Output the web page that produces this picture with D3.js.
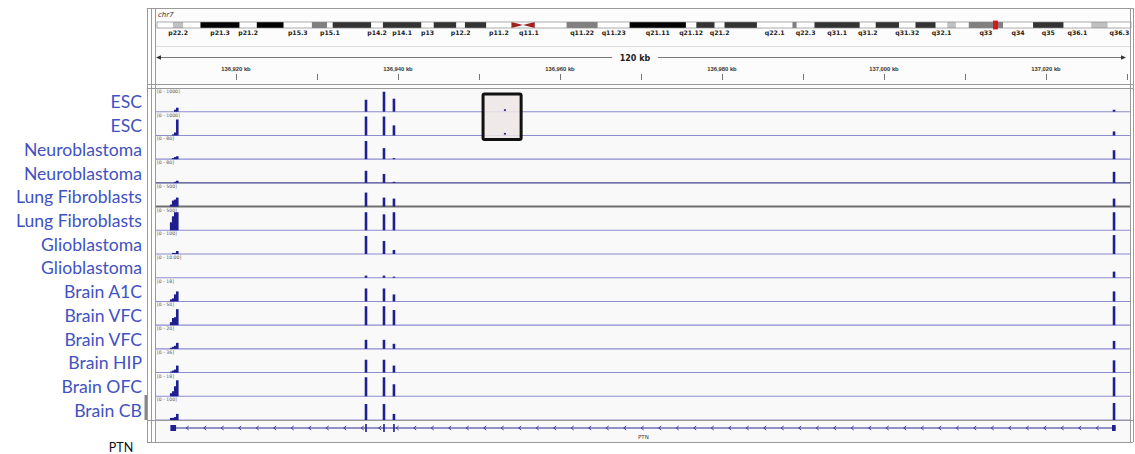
<!DOCTYPE html>
<meta charset="utf-8">
<style>

body {
  margin: 0;
  background: #fff;
}

svg {
  display: block;
  font-family: "DejaVu Sans", sans-serif;
}

.track-name {
  font-family: Lato, "Open Sans", sans-serif;
  font-size: 17.6px;
  fill: #4152c3;
}

.range-label {
  font-size: 4.6px;
  fill: #555;
}

.band-label {
  font-size: 6.2px;
  font-weight: bold;
  fill: #222;
}

.tick-label {
  font-size: 5.8px;
  font-weight: bold;
  fill: #333;
}

.frame {
  fill: none;
  stroke: #999;
  shape-rendering: crispEdges;
}

</style>
<body>
<script src="https://cdn.jsdelivr.net/npm/d3@7"></script>
<script>

var width = 1135,
    height = 454;

// tracks
var trackNames = ["ESC", "ESC", "Neuroblastoma", "Neuroblastoma", "Lung Fibroblasts", "Lung Fibroblasts",
    "Glioblastoma", "Glioblastoma", "Brain A1C", "Brain VFC", "Brain VFC", "Brain HIP", "Brain OFC", "Brain CB"];
var trackRanges = ["[0 - 1000]", "[0 - 1000]", "[0 - 80]", "[0 - 80]", "[0 - 500]", "[0 - 500]",
    "[0 - 100]", "[0 - 10.00]", "[0 - 18]", "[0 - 50]", "[0 - 20]", "[0 - 36]", "[0 - 18]", "[0 - 100]"];
var trackMax = [1000, 1000, 80, 80, 500, 500, 100, 10, 18, 50, 20, 36, 18, 100];

// coverage bins (kb) and signal per track
var binKb = [136912.0, 136912.25, 136912.5, 136912.75, 136936.05, 136938.27, 136939.5, 136953.2, 137028.4];
var binWidthKb = 0.32;
var trackValues = [
  [0, 0, 95, 190, 570, 950, 620, 60, 95],
  [0, 50, 140, 760, 900, 900, 480, 60, 190],
  [0, 4, 8, 11, 69, 42, 4, 0, 34],
  [0, 0, 4, 8, 46, 34, 4, 0, 42],
  [48, 143, 167, 214, 333, 214, 190, 0, 190],
  [190, 333, 430, 430, 430, 380, 430, 0, 430],
  [0, 5, 5, 14, 86, 62, 19, 0, 90],
  [0, 0, 0, 0, 1, 1, 0.5, 0, 2.9],
  [1.7, 2.6, 6, 8.6, 11.1, 11.1, 6, 0, 8.6],
  [7, 17, 19, 38, 45, 45, 36, 0, 45],
  [1, 1.9, 2.9, 5.7, 8.6, 8.6, 4.8, 0, 7.6],
  [1.7, 3.4, 5.1, 12, 22, 22, 12, 0, 21],
  [2.6, 4.3, 8.6, 13.7, 16.3, 16.3, 10.3, 0, 16.3],
  [10, 10, 14, 29, 76, 76, 29, 0, 81]
];

// view & ruler
var viewKb = [136910, 137030];
var rulerTicksKb = d3.range(136920, 137031, 10);
var rulerLabel = "120 kb";
var highlightKb = [136950.5, 136955.2];

// gene PTN (minus strand)
var geneName = "PTN";
var geneKb = [136912.0, 137028.6];
var geneBlocksKb = [[136911.9, 136912.6], [137028.15, 137028.6]];
var geneExonsKb = [136936.05, 136938.27, 136939.5];

// chr7 cytobands (start Mb, stain)
var chromLengthMb = 159.1;
var bandNames = ["p22.3", "p22.2", "p22.1", "p21.3", "p21.2", "p21.1", "p15.3", "p15.2", "p15.1", "p14.3",
    "p14.2", "p14.1", "p13", "p12.3", "p12.2", "p12.1", "p11.2", "p11.1", "q11.1", "q11.21", "q11.22", "q11.23",
    "q21.11", "q21.12", "q21.13", "q21.2", "q21.3", "q22.1", "q22.2", "q22.3", "q31.1", "q31.2", "q31.31",
    "q31.32", "q31.33", "q32.1", "q32.2", "q32.3", "q33", "q34", "q35", "q36.1", "q36.2", "q36.3"];
var bandStartMb = [0, 2.6, 4.3, 7.1, 13.5, 16.3, 20.7, 25.3, 27.8, 28.7,
    35.0, 36.9, 43.2, 45.2, 48.9, 50.3, 53.8, 57.9, 59.8, 61.7, 66.9, 72.0,
    77.2, 86.4, 88.1, 91.1, 92.7, 98.0, 103.8, 104.5, 107.4, 114.8, 117.4,
    121.2, 123.9, 127.2, 129.1, 130.5, 132.6, 138.2, 143.1, 148.1, 152.6, 155.3];
var bandStain = ["gneg", "gpos25", "gneg", "gpos100", "gneg", "gpos100", "gneg", "gpos50", "gneg", "gpos75",
    "gneg", "gpos75", "gneg", "gpos75", "gneg", "gpos75", "gneg", "acen", "acen", "gneg", "gpos50", "gneg",
    "gpos100", "gneg", "gpos75", "gneg", "gpos75", "gneg", "gpos50", "gneg", "gpos75", "gneg", "gpos75",
    "gneg", "gpos75", "gneg", "gpos25", "gneg", "gpos50", "gneg", "gpos75", "gneg", "gpos25", "gneg"];
var bandLabels = ["p22.2", "p21.3", "p21.2", "p15.3", "p15.1", "p14.2", "p14.1", "p13", "p12.2", "p11.2",
    "q11.1", "q11.22", "q11.23", "q21.11", "q21.12", "q21.2", "q22.1", "q22.3", "q31.1", "q31.2", "q31.32",
    "q32.1", "q33", "q34", "q35", "q36.1", "q36.3"];

var stainColor = {gneg: "#ffffff", gpos25: "#c0c0c0", gpos50: "#808080", gpos75: "#333333", gpos100: "#000000", acen: "#a02020"};

var panelLeft = 155, panelRight = 1130,
    tracksTop = 88, tracksBottom = 420, geneBottom = 442;

var svg = d3.select("body").append("svg")
    .attr("width", width)
    .attr("height", height);

var x = d3.scaleLinear().domain(viewKb).range([155, 1127]);
var chromX = d3.scaleLinear().domain([0, chromLengthMb]).range([157, 1131]);
var band = d3.scaleBand().domain(d3.range(trackNames.length)).range([tracksTop, tracksBottom]);

// backgrounds
svg.append("rect")
    .attr("x", panelLeft).attr("y", 8)
    .attr("width", panelRight - panelLeft).attr("height", 80)
    .attr("fill", "#fcfcfc");
svg.append("rect")
    .attr("x", panelLeft).attr("y", tracksTop)
    .attr("width", panelRight - panelLeft).attr("height", geneBottom - tracksTop)
    .attr("fill", "#f9f9f9");

// ---- header: ideogram
svg.append("text")
    .attr("x", 158).attr("y", 17)
    .style("font-size", "7px").style("font-style", "italic").attr("fill", "#333")
    .text("chr7");

var bands = bandNames.map(function(n, i) {
  return {name: n, start: bandStartMb[i], end: i + 1 < bandStartMb.length ? bandStartMb[i + 1] : chromLengthMb, stain: bandStain[i]};
});

var ideo = svg.append("g");
var iy0 = 22, iy1 = 28;
ideo.selectAll("rect.band")
    .data(bands.filter(function(d) { return d.stain != "acen"; }))
  .enter().append("rect")
    .attr("class", "band")
    .attr("x", function(d) { return chromX(d.start); })
    .attr("y", iy0)
    .attr("width", function(d) { return chromX(d.end) - chromX(d.start); })
    .attr("height", iy1 - iy0)
    .attr("fill", function(d) { return stainColor[d.stain]; });

// centromere bow tie
bands.filter(function(d) { return d.stain == "acen"; }).forEach(function(d) {
  var a = chromX(d.start), b = chromX(d.end), pArm = d.name[0] == "p";
  var pts = pArm
      ? [[a, iy0], [b, (iy0 + iy1) / 2], [a, iy1]]
      : [[b, iy0], [a, (iy0 + iy1) / 2], [b, iy1]];
  ideo.append("path")
      .attr("d", d3.line()(pts) + "Z")
      .attr("fill", stainColor.acen);
});

ideo.append("rect")
    .attr("x", chromX(0)).attr("y", iy0)
    .attr("width", chromX(chromLengthMb) - chromX(0)).attr("height", iy1 - iy0)
    .attr("fill", "none").attr("stroke", "#888").attr("stroke-width", 0.7);

// current view marker
var viewMid = (viewKb[0] + viewKb[1]) / 2000;
ideo.append("rect")
    .attr("x", chromX(viewMid) - 2).attr("y", iy0 - 1)
    .attr("width", 4).attr("height", iy1 - iy0 + 2)
    .attr("fill", "#d81818").attr("stroke", "#e01010").attr("stroke-width", 0.8);

ideo.selectAll("text.band-label")
    .data(bands.filter(function(d) { return bandLabels.indexOf(d.name) >= 0; }))
  .enter().append("text")
    .attr("class", "band-label")
    .attr("x", function(d) { return chromX((d.start + d.end) / 2); })
    .attr("y", 35)
    .attr("text-anchor", "middle")
    .text(function(d) { return d.name; });

svg.append("line")
    .attr("x1", panelLeft).attr("x2", panelRight)
    .attr("y1", 46.5).attr("y2", 46.5)
    .attr("stroke", "#ddd");

// ---- ruler
var ry = 57.5;
var textGap = [612, 658];
svg.append("line")
    .attr("x1", x(viewKb[0]) + 2).attr("x2", textGap[0])
    .attr("y1", ry).attr("y2", ry).attr("stroke", "#555").attr("stroke-width", 0.8);
svg.append("line")
    .attr("x1", textGap[1]).attr("x2", x(viewKb[1]) - 2)
    .attr("y1", ry).attr("y2", ry).attr("stroke", "#555").attr("stroke-width", 0.8);
svg.append("path")
    .attr("d", "M" + (x(viewKb[0]) + 1) + "," + ry + "l5,-2.2v4.4Z").attr("fill", "#333");
svg.append("path")
    .attr("d", "M" + (x(viewKb[1]) - 1) + "," + ry + "l-5,-2.2v4.4Z").attr("fill", "#333");
svg.append("text")
    .attr("x", 635).attr("y", ry + 3)
    .attr("text-anchor", "middle")
    .style("font-size", "8px").style("font-weight", "bold").attr("fill", "#222")
    .text(rulerLabel);

var ruler = svg.append("g")
    .attr("transform", "translate(0,80)")
    .call(d3.axisTop(x).tickValues(rulerTicksKb).tickSize(6).tickFormat(""));
ruler.select(".domain").remove();
ruler.selectAll("line").attr("stroke", "#777");
ruler.selectAll(".lbl")
    .data(rulerTicksKb.filter(function(d) { return (d - 136920) % 20 == 0; }))
  .enter().append("text")
    .attr("class", "tick-label")
    .attr("x", function(d) { return x(d); })
    .attr("y", -9)
    .attr("text-anchor", "middle")
    .text(function(d) { return d3.format(",")(d) + " kb"; });

// ---- data tracks
var tracks = svg.selectAll(".track")
    .data(trackNames.map(function(n, i) { return {name: n, i: i}; }))
  .enter().append("g")
    .attr("class", "track");

tracks.each(function(t) {
  var g = d3.select(this),
      top = band(t.i),
      base = top + band.bandwidth(),
      y = d3.scaleLinear().domain([0, trackMax[t.i]]).range([base, base - 21]);

  g.append("line")
      .attr("x1", panelLeft).attr("x2", panelRight)
      .attr("y1", base).attr("y2", base)
      .attr("stroke", t.i == 4 ? "#707070" : t.i == 3 ? "#44448f" : "#8c8cd0")
      .attr("stroke-width", t.i == 4 ? 2 : 1.1);

  g.selectAll("rect")
      .data(trackValues[t.i].map(function(v, k) { return {kb: binKb[k], v: v}; }).filter(function(d) { return d.v > 0; }))
    .enter().append("rect")
      .attr("x", function(d) { return x(d.kb - binWidthKb / 2); })
      .attr("width", function(d) { return x(d.kb + binWidthKb / 2) - x(d.kb - binWidthKb / 2); })
      .attr("y", function(d) { return y(d.v); })
      .attr("height", function(d) { return base - y(d.v); })
      .attr("fill", "#1f1f8f");

  g.append("text")
      .attr("class", "range-label")
      .attr("x", 157).attr("y", top + 5)
      .text(trackRanges[t.i]);

  g.append("text")
      .attr("class", "track-name")
      .attr("x", 142)
      .attr("y", top + band.bandwidth() / 2 + 2)
      .attr("text-anchor", "end")
      .attr("dominant-baseline", "central")
      .text(t.name);
});

// highlight box around ESC tracks
svg.append("rect")
    .attr("x", x(highlightKb[0])).attr("y", band(0) + 6)
    .attr("width", x(highlightKb[1]) - x(highlightKb[0]))
    .attr("height", band(2) - band(0) + 4 - 6)
    .attr("fill", "#efe6e6").attr("fill-opacity", 0.85)
    .attr("stroke", "#111").attr("stroke-width", 3).attr("rx", 1.5);
svg.selectAll(".hl-dot")
    .data([0, 1])
  .enter().append("rect")
    .attr("x", x(binKb[7]) - 1).attr("width", 2)
    .attr("y", function(i) { return band(i) + band.bandwidth() - 2.5; })
    .attr("height", 1.6)
    .attr("fill", "#1f1f8f");

// ---- gene track
var gy = 428;
var gene = svg.append("g");
gene.append("line")
    .attr("x1", x(geneKb[0])).attr("x2", x(geneKb[1]))
    .attr("y1", gy).attr("y2", gy)
    .attr("stroke", "#2b2b99").attr("stroke-width", 1);
var arrows = d3.range(x(geneKb[0]) + 16, x(geneKb[1]) - 6, 17.5);
gene.selectAll(".arrow")
    .data(arrows)
  .enter().append("path")
    .attr("d", function(d) { return "M" + (d + 1.5) + "," + (gy - 2) + "L" + (d - 1) + "," + gy + "L" + (d + 1.5) + "," + (gy + 2); })
    .attr("fill", "none").attr("stroke", "#2b2b99").attr("stroke-width", 0.9);
gene.selectAll(".block")
    .data(geneBlocksKb)
  .enter().append("rect")
    .attr("x", function(d) { return x(d[0]); })
    .attr("width", function(d) { return x(d[1]) - x(d[0]); })
    .attr("y", gy - 3).attr("height", 6)
    .attr("fill", "#1f1f8f");
gene.selectAll(".exon")
    .data(geneExonsKb)
  .enter().append("rect")
    .attr("x", function(d) { return x(d) - 0.8; })
    .attr("width", 1.6)
    .attr("y", gy - 4).attr("height", 8)
    .attr("fill", "#1f1f8f");
gene.append("text")
    .attr("x", x((geneKb[0] + geneKb[1]) / 2)).attr("y", 439)
    .attr("text-anchor", "middle")
    .style("font-size", "5.5px").attr("fill", "#444")
    .text(geneName);

svg.append("text")
    .attr("x", 121).attr("y", 452)
    .attr("text-anchor", "middle")
    .style("font-family", "Lato, 'Open Sans', sans-serif").style("font-size", "12.5px")
    .attr("fill", "#111")
    .text(geneName);

// ---- frame lines
[147, 151, panelLeft, panelRight, 1133].forEach(function(v) {
  svg.append("line").attr("class", "frame")
      .attr("x1", v).attr("x2", v).attr("y1", 8).attr("y2", geneBottom);
});
[8, 84, 88, tracksBottom, geneBottom].forEach(function(v) {
  svg.append("line").attr("class", "frame")
      .attr("x1", 147).attr("x2", 1133).attr("y1", v).attr("y2", v)
      .attr("stroke", v == tracksBottom ? "#8c8cd0" : "#999");
});
svg.append("rect")
    .attr("x", 144.5).attr("y", 395).attr("width", 2.5).attr("height", 25)
    .attr("fill", "#888");

</script>
